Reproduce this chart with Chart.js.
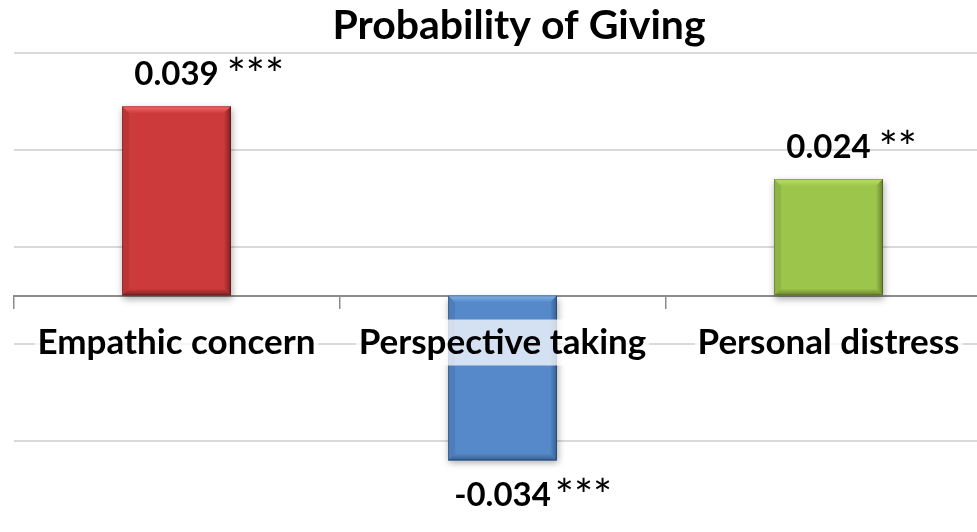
<!DOCTYPE html>
<html lang="en">
<head>
  <meta charset="UTF-8">
  <title>Probability of Giving</title>
  <script src="https://cdn.jsdelivr.net/npm/chart.js"></script>
  <style>
    html, body {
      margin: 0;
      padding: 0;
      background: #fff;
      overflow: hidden;
    }
    #wrap {
      position: absolute;
      left: 0;
      top: 0;
    }
  </style>
</head>
<body>
  <div id="wrap">
    <canvas id="givingChart" width="1005" height="545"></canvas>
  </div>

  <script>
    // data
    const categories = ['Empathic concern', 'Perspective taking', 'Personal distress'];
    const values = [0.039, -0.034, 0.024];
    const stars = ['***', '***', '**'];
    const gridValues = [-0.05, -0.03, -0.01, 0.01, 0.03, 0.05];

    // colours: main face, light top bevel, dark right edge
    const faces = ['#cd3a3b', '#5589c9', '#9cc64b'];
    const lights = ['#f26a6a', '#86b4ea', '#bcdf6c'];
    const darks = ['#7e2020', '#365f92', '#667f2c'];

    const fontName = 'Lato, "Open Sans", sans-serif';

    // soft shadow under the bars
    const shadowPlugin = {
      id: 'barShadow',
      beforeDatasetsDraw(chart) {
        const ctx = chart.ctx;
        ctx.save();
        ctx.shadowColor = 'rgba(0,0,0,0.35)';
        ctx.shadowBlur = 7;
        ctx.shadowOffsetX = 1;
        ctx.shadowOffsetY = 3;
      },
      afterDatasetsDraw(chart) {
        chart.ctx.restore();
      }
    };

    // bevel edges + value labels
    const bevelPlugin = {
      id: 'bevel',
      afterDatasetsDraw(chart) {
        const ctx = chart.ctx;
        const meta = chart.getDatasetMeta(0);
        meta.data.forEach((bar, i) => {
          const left = bar.x - bar.width / 2;
          const right = bar.x + bar.width / 2;
          const top = Math.min(bar.y, bar.base);
          const bottom = Math.max(bar.y, bar.base);
          const b = 7;
          ctx.save();
          // top bevel
          let g = ctx.createLinearGradient(0, top, 0, top + b);
          g.addColorStop(0, lights[i]);
          g.addColorStop(1, faces[i]);
          ctx.fillStyle = g;
          ctx.beginPath();
          ctx.moveTo(left, top);
          ctx.lineTo(right, top);
          ctx.lineTo(right - b, top + b);
          ctx.lineTo(left + b, top + b);
          ctx.closePath();
          ctx.fill();
          // right edge
          g = ctx.createLinearGradient(right - b, 0, right, 0);
          g.addColorStop(0, faces[i]);
          g.addColorStop(1, darks[i]);
          ctx.fillStyle = g;
          ctx.beginPath();
          ctx.moveTo(right, top);
          ctx.lineTo(right, bottom);
          ctx.lineTo(right - b, bottom - b);
          ctx.lineTo(right - b, top + b);
          ctx.closePath();
          ctx.fill();
          // bottom edge
          g = ctx.createLinearGradient(0, bottom - b, 0, bottom);
          g.addColorStop(0, faces[i]);
          g.addColorStop(1, darks[i]);
          ctx.fillStyle = g;
          ctx.beginPath();
          ctx.moveTo(left, bottom);
          ctx.lineTo(right, bottom);
          ctx.lineTo(right - b, bottom - b);
          ctx.lineTo(left + b, bottom - b);
          ctx.closePath();
          ctx.fill();
          // left edge, a touch darker
          ctx.fillStyle = 'rgba(0,0,0,0.08)';
          ctx.beginPath();
          ctx.moveTo(left, top);
          ctx.lineTo(left + b, top + b);
          ctx.lineTo(left + b, bottom - b);
          ctx.lineTo(left, bottom);
          ctx.closePath();
          ctx.fill();
          ctx.strokeStyle = 'rgba(0,0,0,0.25)';
          ctx.lineWidth = 1;
          ctx.strokeRect(left + 0.5, top + 0.5, bar.width - 1, bottom - top - 1);
          ctx.restore();

          // value label, stars after it
          const v = values[i];
          const txt = v.toFixed(3);
          ctx.save();
          ctx.fillStyle = '#000';
          ctx.font = 'bold 33px ' + fontName;
          ctx.textAlign = 'center';
          ctx.textBaseline = 'alphabetic';
          const w = ctx.measureText(txt).width;
          const baseY = v >= 0 ? bar.y - 21 : bar.y + 46;
          ctx.fillText(txt, bar.x, baseY);
          ctx.font = '45px ' + fontName;
          ctx.textAlign = 'left';
          ctx.fillText(stars[i], bar.x + w / 2 + (v >= 0 ? 8 : 4), baseY + 5);
          ctx.restore();
        });
      }
    };

    // title, centred where the picture has it
    const titlePlugin = {
      id: 'titleText',
      afterDraw(chart) {
        const ctx = chart.ctx;
        ctx.save();
        ctx.fillStyle = '#000';
        ctx.font = 'bold 41px ' + fontName;
        ctx.textAlign = 'center';
        ctx.textBaseline = 'alphabetic';
        ctx.fillText('Probability of Giving', 519, 39);
        ctx.restore();
      }
    };

    const ctx = document.getElementById('givingChart').getContext('2d');

    new Chart(ctx, {
      type: 'bar',
      data: {
        labels: categories,
        datasets: [{
          data: values,
          backgroundColor: faces,
          borderWidth: 0,
          barPercentage: 0.334,
          categoryPercentage: 1.0
        }]
      },
      options: {
        responsive: false,
        animation: false,
        devicePixelRatio: 1,
        layout: {
          padding: { left: 13.5, right: 13.5, top: 53, bottom: 7 }
        },
        plugins: {
          legend: { display: false },
          title: { display: false },
          tooltip: { enabled: false }
        },
        scales: {
          x: {
            position: { y: 0 },
            afterFit(scale) { scale.height = 0; },
            grid: {
              offset: true,
              drawOnChartArea: false,
              tickLength: 12,
              color: '#8c8c8c',
              lineWidth: 1.5
            },
            border: { display: true, color: '#8c8c8c', width: 2 },
            ticks: {
              z: 1,
              autoSkip: false,
              maxRotation: 0,
              minRotation: 0,
              padding: 14,
              color: '#000',
              font: { family: fontName, size: 35, weight: 'bold' },
              showLabelBackdrop: true,
              backdropColor: 'rgba(255,255,255,0.75)',
              backdropPadding: { top: 2, bottom: 2, left: 3, right: 3 }
            }
          },
          y: {
            min: -0.05,
            max: 0.05,
            afterBuildTicks(scale) {
              scale.ticks = gridValues.map(v => ({ value: v }));
            },
            afterFit(scale) { scale.width = 0; },
            grid: {
              drawTicks: false,
              color: '#d9d9d9',
              lineWidth: 2
            },
            border: { display: false },
            ticks: { display: false }
          }
        }
      },
      plugins: [shadowPlugin, bevelPlugin, titlePlugin]
    });
  </script>
</body>
</html>
